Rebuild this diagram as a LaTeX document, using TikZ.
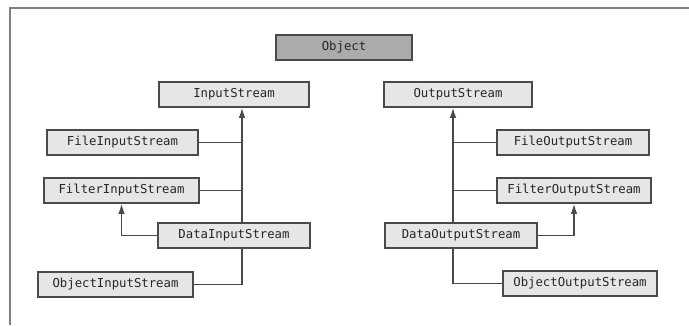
\documentclass[tikz,border=0pt]{standalone}
\usepackage{fontspec}
\setmonofont{DejaVu Sans Mono}
\usetikzlibrary{arrows.meta}

\definecolor{boxgray}{HTML}{E6E6E7}
\definecolor{topgray}{HTML}{ABABAD}
\definecolor{linegray}{HTML}{4A4A4A}

\begin{document}
\begin{tikzpicture}[x=1pt,y=-1pt,
		classbox/.style={draw=linegray,line width=1.5pt,fill=boxgray,minimum height=25pt,inner sep=0pt,
			text=black!85,font=\ttfamily\fontsize{12.3}{14}\selectfont},
		link/.style={draw=linegray,line width=1.4pt},
		isa/.style={link,-{Latex[length=10pt,width=6.5pt]}}]

			\useasboundingbox (0,0) rectangle (689,325);

			% frame
			\draw [draw=gray,line width=1.5pt] (10,325) -- (10,8) -- (689,8);

			\node[classbox,fill=topgray,minimum width=136pt] (object) at (344,47.5) {Object};

			% input side
			\node[classbox,minimum width=150pt] (instream) at (234,94.5) {InputStream};
			\node[classbox,minimum width=151pt] (filein) at (122.5,142.5) {FileInputStream};
			\node[classbox,minimum width=155pt] (filterin) at (121.5,190.5) {FilterInputStream};
			\node[classbox,minimum width=152pt] (datain) at (234,235.5) {DataInputStream};
			\node[classbox,minimum width=155pt] (objin) at (115.5,284.5) {ObjectInputStream};

			% output side
			\node[classbox,minimum width=148pt] (outstream) at (458,94.5) {OutputStream};
			\node[classbox,minimum width=152pt] (fileout) at (573,142.5) {FileOutputStream};
			\node[classbox,minimum width=154pt] (filterout) at (574,190.5) {FilterOutputStream};
			\node[classbox,minimum width=152pt] (dataout) at (461,235.5) {DataOutputStream};
			\node[classbox,minimum width=154pt] (objout) at (580,283.5) {ObjectOutputStream};

			\coordinate (trunkL) at (242,0);
			\coordinate (trunkR) at (453,0);

			\draw [isa] (datain.north -| trunkL) -- (instream.south -| trunkL);
			\draw [link] (filein.east) -- (filein.east -| trunkL);
			\draw [link] (filterin.east) -- (filterin.east -| trunkL);
			\draw [link] (datain.south -| trunkL) |- (objin.east);
			\draw [isa] (datain.west) -| (filterin.south);

			\draw [isa] (dataout.north -| trunkR) -- (outstream.south -| trunkR);
			\draw [link] (fileout.west) -- (fileout.west -| trunkR);
			\draw [link] (filterout.west) -- (filterout.west -| trunkR);
			\draw [link] (dataout.south -| trunkR) |- (objout.west);
			\draw [isa] (dataout.east) -| (filterout.south);

	\end{tikzpicture}
\end{document}
